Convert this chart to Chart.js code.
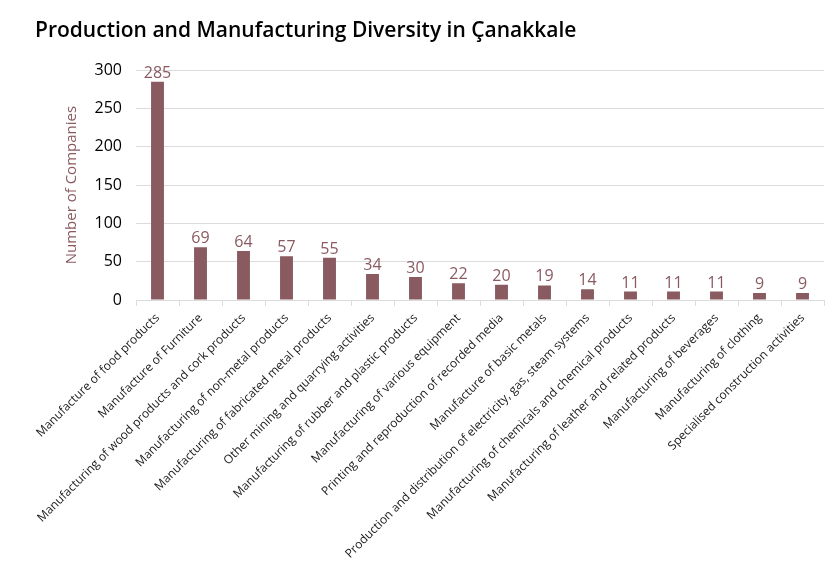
<!DOCTYPE html>
<html>
<head>
<meta charset="utf-8">
<script src="https://cdn.jsdelivr.net/npm/chart.js@4.4.1/dist/chart.umd.min.js"></script>
<style>
    html, body { margin: 0; padding: 0; background: #fff; }
    #wrap { width: 836px; height: 562px; position: relative; }
</style>
</head>
<body>
<div id="wrap"><canvas id="diversityChart"></canvas></div>
<script>
// Sector names and company counts
const sectors = [
    'Manufacture of food products',
    'Manufacture of Furniture',
    'Manufacturing of wood products and cork products',
    'Manufacturing of non-metal products',
    'Manufacturing of fabricated metal products',
    'Other mining and quarrying activities',
    'Manufacturing of rubber and plastic products',
    'Manufacturing of various equipment',
    'Printing and reproduction of recorded media',
    'Manufacture of basic metals',
    'Production and distribution of electricity, gas, steam systems',
    'Manufacturing of chemicals and chemical products',
    'Manufacturing of leather and related products',
    'Manufacturing of beverages',
    'Manufacturing of clothing',
    'Specialised construction activities'
];
const companies = [285, 69, 64, 57, 55, 34, 30, 22, 20, 19, 14, 11, 11, 11, 9, 9];
const yTicks = [0, 50, 100, 150, 200, 250, 300];

const colors = {
    bar: '#8a5a61',
    grid: '#dcdcdc',
    text: '#1a1a1a'
};

const fontFamily = "'Open Sans', 'DejaVu Sans', sans-serif";

// Draws the value above each bar
const valueLabels = {
    id: 'valueLabels',
    afterDatasetsDraw(chart) {
        const ctx = chart.ctx;
        const meta = chart.getDatasetMeta(0);
        ctx.save();
        ctx.fillStyle = colors.bar;
        ctx.font = '16px ' + fontFamily;
        ctx.textAlign = 'center';
        ctx.textBaseline = 'alphabetic';
        meta.data.forEach((bar, i) => {
            ctx.fillText(String(companies[i]), bar.x, bar.y - 4);
        });
        ctx.restore();
    }
};

new Chart(document.getElementById('diversityChart'), {
    type: 'bar',
    data: {
        labels: sectors,
        datasets: [{
            label: 'Number of Companies',
            data: companies,
            backgroundColor: colors.bar,
            categoryPercentage: 1,
            barPercentage: 0.3
        }]
    },
    options: {
        responsive: true,
        maintainAspectRatio: false,
        animation: false,
        layout: {
            padding: { left: 35, right: 12, top: 0, bottom: 0 }
        },
        plugins: {
            legend: { display: false },
            tooltip: { enabled: false },
            title: {
                display: true,
                text: 'Production and Manufacturing Diversity in Çanakkale',
                align: 'start',
                color: '#000',
                font: { family: fontFamily, size: 21, weight: '600' },
                padding: { top: 18, bottom: 27 }
            }
        },
        scales: {
            x: {
                grid: {
                    display: true,
                    drawOnChartArea: false,
                    drawTicks: true,
                    tickLength: 6,
                    color: colors.grid,
                    offset: true
                },
                border: { display: true, color: colors.grid },
                ticks: {
                    autoSkip: false,
                    maxRotation: 45,
                    minRotation: 45,
                    padding: 5,
                    color: colors.text,
                    font: { family: fontFamily, size: 12 }
                },
                afterFit(scale) { scale.height = 262; }
            },
            y: {
                min: 0,
                max: 300,
                afterBuildTicks(scale) {
                    scale.ticks = yTicks.map(v => ({ value: v }));
                },
                grid: {
                    color: colors.grid,
                    drawTicks: false
                },
                border: { display: false },
                ticks: {
                    padding: 14,
                    color: '#000',
                    font: { family: fontFamily, size: 16 }
                },
                title: {
                    display: true,
                    text: 'Number of Companies',
                    color: colors.bar,
                    font: { family: fontFamily, size: 15 },
                    padding: { top: 28, bottom: 0 }
                },
                afterFit(scale) { scale.width = 101; }
            }
        }
    },
    plugins: [valueLabels]
});
</script>
</body>
</html>
